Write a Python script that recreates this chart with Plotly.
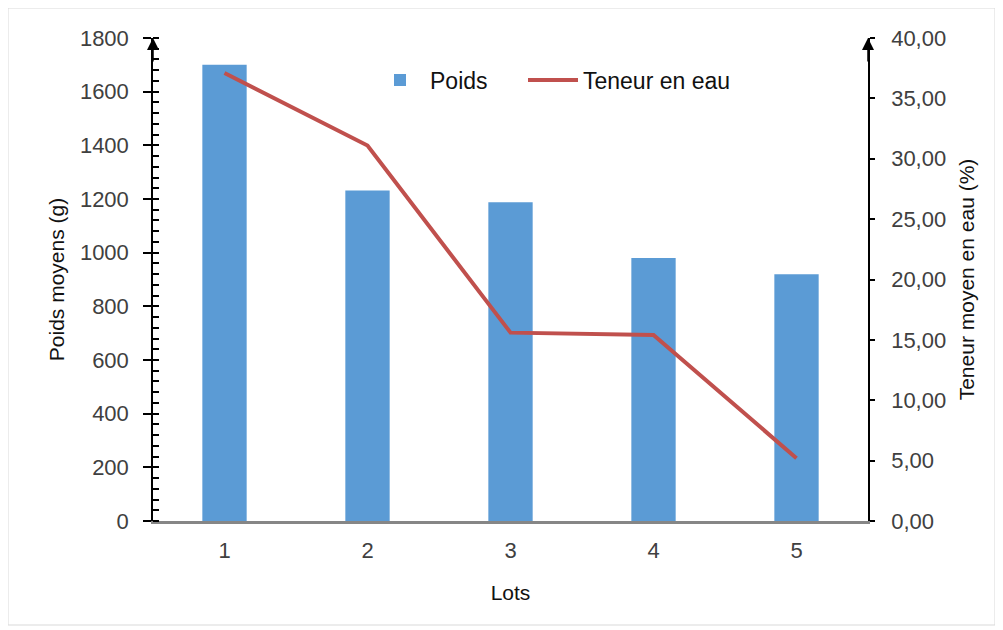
import plotly.graph_objects as go

lots = ["1", "2", "3", "4", "5"]
poids = [1700, 1232, 1188, 980, 920]
teneur = [37.1, 31.1, 15.6, 15.4, 5.2]
left_ticks = [0, 200, 400, 600, 800, 1000, 1200, 1400, 1600, 1800]
right_ticks = [0, 5, 10, 15, 20, 25, 30, 35, 40]

FONT = "Liberation Sans, Arial, sans-serif"
# plot area in figure pixels (page has an 8px body offset)
L, R, T, B = 145, 860, 30, 513
W, H = 1003, 630
PW, PH = R - L, B - T

fig = go.Figure()
fig.add_trace(go.Bar(x=lots, y=poids, name="Poids", marker_color="#5B9BD5",
                     marker_line_width=0, width=0.31, yaxis="y", legend="legend"))
fig.add_trace(go.Scatter(x=lots, y=teneur, name="Teneur en eau", mode="lines",
                         line=dict(color="#C0504D", width=4), yaxis="y2",
                         legend="legend2"))

leg_common = dict(orientation="h", xanchor="left", y=(B - 72) / PH, yanchor="middle",
                  font=dict(size=23, color="#111111"), bgcolor="rgba(0,0,0,0)",
                  itemwidth=50)

fig.update_layout(
    width=W, height=H,
    margin=dict(l=L, r=W - R, t=T, b=H - B, autoexpand=False),
    paper_bgcolor="white", plot_bgcolor="white",
    font=dict(family=FONT, size=22, color="#404040"),
    separators=", ",
    showlegend=True,
    legend=dict(x=(370 - 8 - L) / PW, **leg_common),
    legend2=dict(x=(523 - 8 - L) / PW, **leg_common),
    xaxis=dict(type="category", range=[-0.5, 4.5], showline=True, linecolor="#868686",
               linewidth=2.5, ticks="", showgrid=False, zeroline=False,
               ticklabelstandoff=8,
               title=dict(text="Lots", font=dict(size=21, color="#111111"), standoff=24),
               tickfont=dict(size=22, color="#404040")),
    yaxis=dict(range=[0, 1800], tickvals=left_ticks, showline=True, linecolor="black",
               linewidth=1.5, ticks="outside", ticklen=8, tickcolor="black", tickwidth=1.5,
               showgrid=False, zeroline=False, tickformat="d", ticklabelstandoff=10,
               minor=dict(dtick=40, ticks="inside", ticklen=6, tickcolor="black", tickwidth=1.5),
               title=dict(text="Poids moyens (g)", font=dict(size=21, color="#111111"), standoff=10)),
    yaxis2=dict(range=[0, 40], tickvals=right_ticks, overlaying="y", side="right",
                showline=True, linecolor="black", linewidth=1.5, ticks="outside",
                ticklen=5, tickcolor="black", tickwidth=1.5, showgrid=False,
                zeroline=False, tickformat=".2f", ticklabelstandoff=12,
                title=dict(text="Teneur moyen en eau (%)", font=dict(size=21, color="#111111"),
                           standoff=14)),
    shapes=[dict(type="rect", xref="paper", yref="paper",
                 x0=(0 - L) / PW, x1=(987 - L) / PW,
                 y0=(B - 617) / PH, y1=(B - 0) / PH,
                 line=dict(color="#D9D9D9", width=1), fillcolor="rgba(0,0,0,0)",
                 layer="below")],
    annotations=[
        dict(x=0, y=1.0, xref="paper", yref="paper", ax=0, ay=25, axref="pixel",
             ayref="pixel", showarrow=True, arrowhead=2, arrowsize=1.6, arrowwidth=1.5,
             arrowcolor="black", text=""),
        dict(x=1, y=1.0, xref="paper", yref="paper", ax=0, ay=25, axref="pixel",
             ayref="pixel", showarrow=True, arrowhead=2, arrowsize=1.6, arrowwidth=1.5,
             arrowcolor="black", text=""),
    ],
)
fig.write_html("out.html")
